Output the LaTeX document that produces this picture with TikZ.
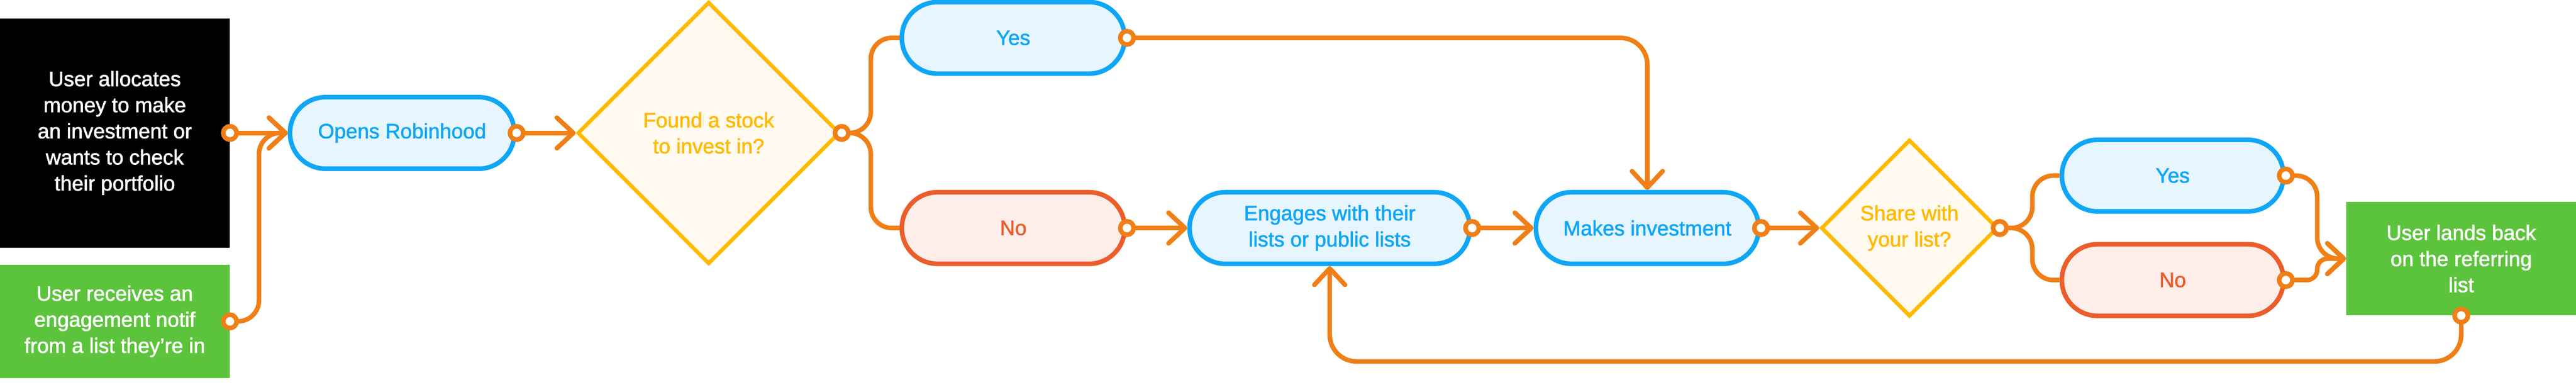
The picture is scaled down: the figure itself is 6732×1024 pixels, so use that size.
\documentclass[tikz,border=0pt]{standalone}
\usepackage{fontspec}
\setmainfont{Liberation Sans}[FakeBold=1.6]
\usetikzlibrary{arrows.meta,shapes.geometric}
\definecolor{rhorange}{HTML}{EF7F16}
\definecolor{rhblue}{HTML}{0FA6F6}
\definecolor{rhbluefill}{HTML}{E7F5FE}
\definecolor{rhred}{HTML}{EB5D2B}
\definecolor{rhredfill}{HTML}{FDEEEA}
\definecolor{rhyellow}{HTML}{FFBA00}
\definecolor{rhyellowfill}{HTML}{FFF9F0}
\definecolor{rhgreen}{HTML}{5CC43C}
\tikzset{
	lbl/.style={align=center, inner sep=0pt, font=\fontsize{15.5pt}{19.4pt}\selectfont},
	pill/.style={lbl, rectangle, rounded corners=0.93cm, line width=0.12cm, minimum width=5.82cm, minimum height=1.87cm},
	bluepill/.style={pill, draw=rhblue, fill=rhbluefill, text=rhblue},
	redpill/.style={pill, draw=rhred, fill=rhredfill, text=rhred},
	choice/.style={lbl, diamond, aspect=1, draw=rhyellow, fill=rhyellowfill, text=rhyellow, line width=0.1cm},
	startbox/.style={lbl, rectangle, minimum width=6cm, text=white},
	flow/.style={draw=rhorange, line width=0.12cm, rounded corners=0.55cm},
	arrowed/.style={-{Straight Barb[length=0.43cm,width=0.8cm,round]}},
	port/.style={circle, draw=rhorange, fill=white, line width=0.12cm, minimum size=0.35cm, inner sep=0pt}
}
\begin{document}
\begin{tikzpicture}[x=0.01cm, y=-0.01cm]
		\useasboundingbox (0,0) rectangle (6732,1024);
		\node[startbox, fill=black, minimum height=5.99cm] (alloc) at (300,347.5) {User allocates\\money to make\\an investment or\\wants to check\\their portfolio};
		\node[startbox, fill=rhgreen, minimum height=2.96cm] (notif) at (300,840) {User receives an\\engagement notif\\from a list they’re in};
		\node[bluepill, minimum width=5.86cm] (opens) at (1051,347.5) {Opens Robinhood};
		\node[choice, minimum size=6.85cm] (found) at (1852,347.5) {Found a stock\\to invest in?};
		\node[bluepill] (yesA) at (2648,99) {Yes};
		\node[redpill] (noA) at (2648,596) {No};
		\node[bluepill, minimum width=7.32cm] (engage) at (3475,596) {Engages with their\\lists or public lists};
		\node[bluepill] (invest) at (4305,596) {Makes investment};
		\node[choice, minimum size=4.62cm] (share) at (4990,596) {Share with\\your list?};
		\node[bluepill, minimum width=5.79cm] (yesB) at (5678,459) {Yes};
		\node[redpill, minimum width=5.79cm] (noB) at (5678,732) {No};
		\node[startbox, fill=rhgreen, minimum height=2.96cm] (lands) at (6432,676) {User lands back\\on the referring\\list};

		\draw[flow, arrowed] (alloc.east) -- (opens.west);
		\draw[flow, arrowed] (notif.east) -- ++(76,0) |- (opens.west);
		\draw[flow, arrowed] (opens.east) -- (found.west);
		\draw[flow] (found.east) -- ++(76,0) |- (yesA.west);
		\draw[flow] (found.east) -- ++(76,0) |- (noA.west);
		\draw[flow, arrowed, rounded corners=0.7cm] (yesA.east) -| (invest.north);
		\draw[flow, arrowed] (noA.east) -- (engage.west);
		\draw[flow, arrowed] (engage.east) -- (invest.west);
		\draw[flow, arrowed] (invest.east) -- (share.west);
		\draw[flow] (share.east) -- ++(85,0) |- (yesB.west);
		\draw[flow] (share.east) -- ++(85,0) |- (noB.west);
		\draw[flow, arrowed] (yesB.east) -- ++(82,0) |- (lands.west);
		\draw[flow, arrowed, rounded corners=0.27cm] (noB.east) -- ++(82,0) |- (lands.west);
		\draw[flow, arrowed, rounded corners=0.7cm] (lands.south) -- ++(0,120) -| (engage.south);

		\node[port] (p1) at (alloc.east) {};
		\node[port] (p2) at (notif.east) {};
		\node[port] (p3) at (opens.east) {};
		\node[port] (p4) at (found.east) {};
		\node[port] (p5) at (yesA.east) {};
		\node[port] (p6) at (noA.east) {};
		\node[port] (p7) at (engage.east) {};
		\node[port] (p8) at (invest.east) {};
		\node[port] (p9) at (share.east) {};
		\node[port] (p10) at (yesB.east) {};
		\node[port] (p11) at (noB.east) {};
		\node[port] (p12) at (lands.south) {};
	\end{tikzpicture}
\end{document}
